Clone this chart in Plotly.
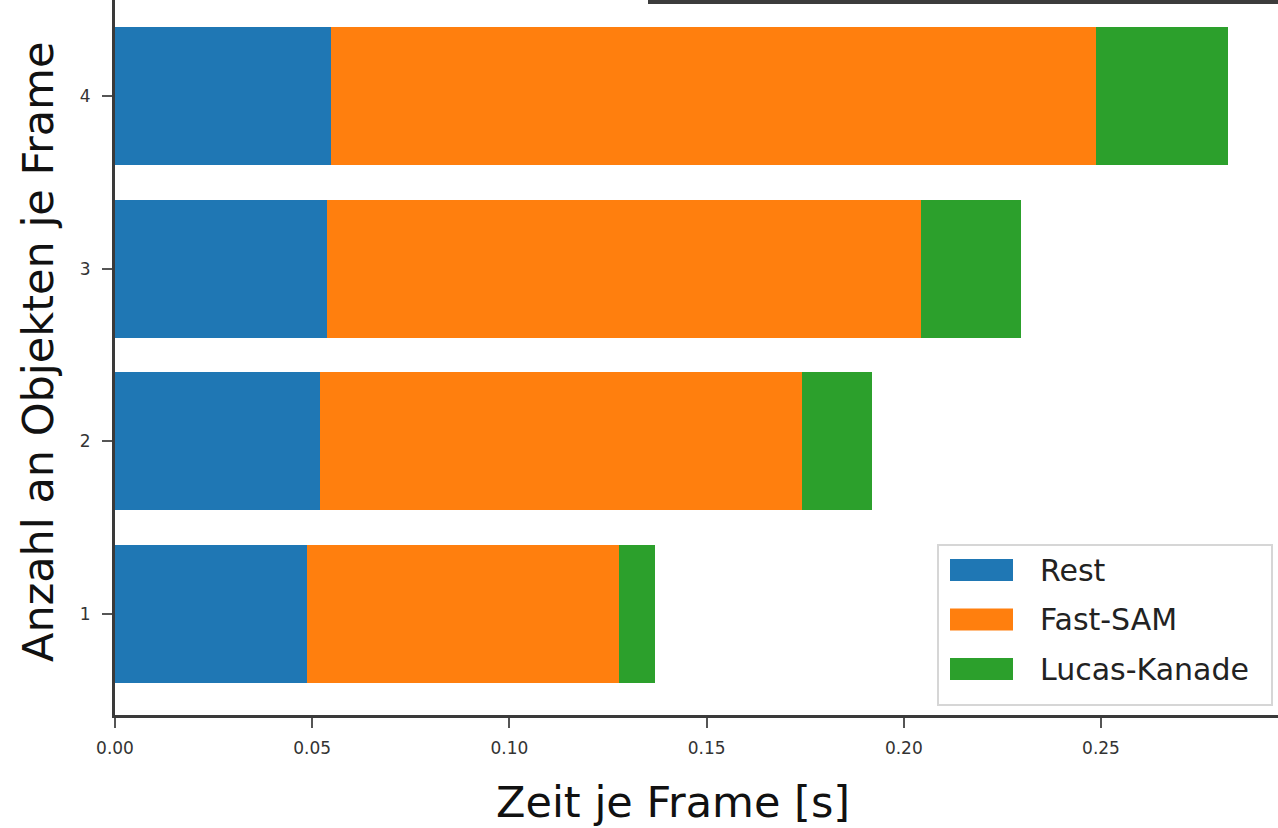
import plotly.graph_objects as go

# Objects per frame and per-stage processing time (seconds)
objekte = [1, 2, 3, 4]
rest = [0.0487, 0.0520, 0.0538, 0.0548]
fast_sam = [0.0791, 0.1222, 0.1506, 0.1939]
lucas_kanade = [0.0091, 0.0177, 0.0253, 0.0335]

serien = ["Rest", "Fast-SAM", "Lucas-Kanade"]
farben = ["#1f77b4", "#ff7f0e", "#2ca02c"]
x_ticks = [0.00, 0.05, 0.10, 0.15, 0.20, 0.25]

W, H = 1278, 828
L, R, T, B = 115, 0, 0, 113
PW, PH = W - L - R, H - T - B


def px(x):
    return (x - L) / PW


def py(y):
    return 1 - (y - T) / PH


fig = go.Figure()
for name, vals, col in zip(serien, [rest, fast_sam, lucas_kanade], farben):
    fig.add_trace(go.Bar(
        y=objekte, x=vals, name=name, orientation="h",
        marker=dict(color=col, line=dict(width=0)), width=0.8,
        showlegend=False,
    ))

shapes = [
    # dark border line running along the top
    dict(type="rect", xref="paper", yref="paper",
         x0=px(648), x1=px(1290), y0=py(4), y1=py(-2),
         fillcolor="#3c3c3c", line=dict(width=0), layer="above"),
    # legend frame
    dict(type="rect", xref="paper", yref="paper",
         x0=px(938), x1=px(1272), y0=py(705), y1=py(545),
         fillcolor="rgba(255,255,255,0.85)", line=dict(color="#d6d6d6", width=2),
         layer="above"),
]
annotations = [
    dict(text="Zeit je Frame [s]", xref="paper", yref="paper",
         x=px(673), y=py(802), showarrow=False, xanchor="center", yanchor="middle",
         font=dict(family="DejaVu Sans", size=43, color="#111111")),
    dict(text="Anzahl an Objekten je Frame", xref="paper", yref="paper",
         x=px(38), y=py(352), showarrow=False, textangle=-90,
         xanchor="center", yanchor="middle",
         font=dict(family="DejaVu Sans", size=43, color="#111111")),
]
for i, (name, col) in enumerate(zip(serien, farben)):
    yc = 570 + i * 49.5
    shapes.append(dict(type="rect", xref="paper", yref="paper",
                       x0=px(950), x1=px(1013), y0=py(yc + 11), y1=py(yc - 11),
                       fillcolor=col, line=dict(width=0), layer="above"))
    annotations.append(dict(text=name, xref="paper", yref="paper",
                            x=px(1038), y=py(yc), showarrow=False,
                            xanchor="left", yanchor="middle",
                            font=dict(family="DejaVu Sans", size=30, color="#222222")))

fig.update_layout(
    width=W, height=H,
    margin=dict(l=L, r=R, t=T, b=B),
    barmode="stack",
    bargap=0.2,
    plot_bgcolor="white", paper_bgcolor="white",
    shapes=shapes, annotations=annotations,
    xaxis=dict(range=[0, (W - L) / 3944], tickvals=x_ticks,
               ticktext=[f"{v:.2f}" for v in x_ticks],
               showgrid=False, zeroline=False, showline=True,
               linecolor="#3a3a3a", linewidth=3, ticks="outside",
               ticklen=10, tickwidth=2, tickcolor="#555555",
               ticklabelstandoff=6,
               tickfont=dict(family="DejaVu Sans", size=17, color="#333333")),
    yaxis=dict(range=[0.415, 4.556], tickvals=objekte,
               showgrid=False, zeroline=False, showline=True,
               linecolor="#3a3a3a", linewidth=3, ticks="outside",
               ticklen=10, tickwidth=2, tickcolor="#555555",
               ticklabelstandoff=8,
               tickfont=dict(family="DejaVu Sans", size=17, color="#333333")),
)

fig.write_html("out.html")
